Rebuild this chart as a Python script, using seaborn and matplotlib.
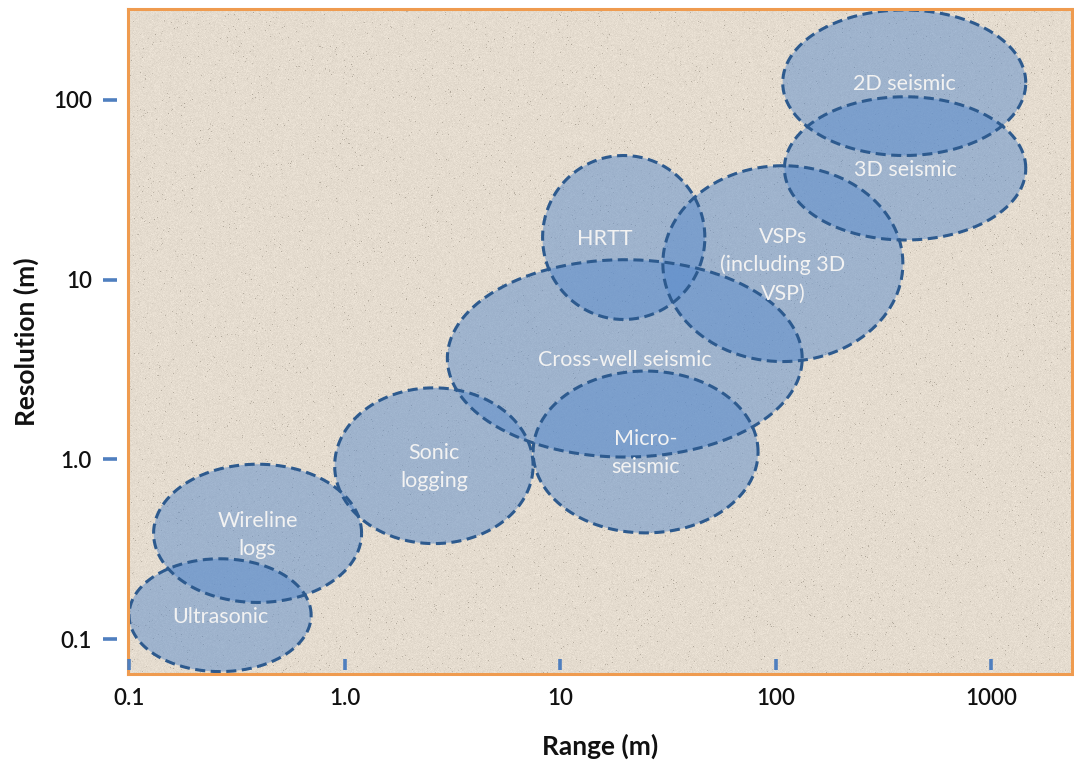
import numpy as np
import pandas as pd
import matplotlib
matplotlib.use("Agg")
import matplotlib.pyplot as plt
import matplotlib.transforms as mtransforms
import seaborn as sns

# Survey methods: range (m) and resolution (m) covered by each technique
methods = ["Ultrasonic", "Wireline\nlogs", "Sonic\nlogging", "Cross-well seismic",
           "Micro-\nseismic", "HRTT", "VSPs\n(including 3D\nVSP)", "2D seismic", "3D seismic"]
range_min = [0.10, 0.13, 0.90, 3.0, 7.5, 8.3, 30.0, 108.0, 110.0]
range_max = [0.70, 1.2, 7.5, 133.0, 83.0, 47.0, 390.0, 1450.0, 1450.0]
res_min = [0.066, 0.16, 0.34, 1.03, 0.39, 6.0, 3.5, 49.0, 16.6]
res_max = [0.28, 0.94, 2.5, 12.9, 3.1, 49.0, 43.0, 316.0, 104.0]

x_ticks = [0.1, 1, 10, 100, 1000]
x_tick_labels = ["0.1", "1.0", "10", "100", "1000"]
y_ticks = [0.1, 1, 10, 100]
y_tick_labels = ["0.1", "1.0", "10", "100"]

sns.set_theme(style="white")
plt.rcParams["font.family"] = ["Lato", "DejaVu Sans"]

fig = plt.figure(figsize=(10.74, 7.62), dpi=100)
ax = fig.add_axes([128 / 1074, 1 - 674 / 762, 944 / 1074, 665 / 762])
ax.set_xscale("log")
ax.set_yscale("log")
ax.set_xlim(0.0989, 2376)
ax.set_ylim(0.0640, 320)

# paper-like textured background
rng = np.random.default_rng(7)
h, w = 665, 944
base = np.array([229, 220, 207], dtype=float)
noise = rng.normal(0, 4.0, size=(h, w, 1))
tex = base + noise
specks = rng.random((h, w)) < 0.01
tex[specks] -= rng.uniform(20, 50, size=(specks.sum(), 1))
tex = np.clip(tex, 0, 255) / 255.0
ax.imshow(tex, extent=[0, 1, 0, 1], transform=ax.transAxes, aspect="auto",
          zorder=0, interpolation="bilinear")

fill_color = "#5a8ccc"
edge_color = "#2d5a8e"
t = np.linspace(0, 2 * np.pi, 361)
for name, x0, x1, y0, y1 in zip(methods, range_min, range_max, res_min, res_max):
    lx0, lx1, ly0, ly1 = np.log10([x0, x1, y0, y1])
    cx, cy = (lx0 + lx1) / 2, (ly0 + ly1) / 2
    rx, ry = (lx1 - lx0) / 2, (ly1 - ly0) / 2
    pts = pd.DataFrame({"x": 10 ** (cx + rx * np.cos(t)), "y": 10 ** (cy + ry * np.sin(t))})
    ax.fill(pts["x"], pts["y"], color=fill_color, alpha=0.5, lw=0, zorder=2)
    sns.lineplot(data=pts, x="x", y="y", sort=False, estimator=None, ax=ax,
                 color=edge_color, lw=2.2, linestyle=(0, (3.3, 1.8)), zorder=3)
    dx = -14 if name == "HRTT" else 0
    ax.annotate(name, (10 ** cx, 10 ** cy), xytext=(dx, -1), textcoords="offset points",
                ha="center", va="center", color="#f2f2f2", fontsize=15.5,
                linespacing=1.5, zorder=4)

# axes frame
for s in ax.spines.values():
    s.set_visible(True)
    s.set_color("#ef9b4f")
    s.set_linewidth(2.2)
    s.set_zorder(5)

# ticks: small detached blue dashes
tick_color = "#4f7fbf"
ax.set_xticks(x_ticks, x_tick_labels)
ax.set_yticks(y_ticks, y_tick_labels)
ax.minorticks_off()
ax.tick_params(axis="both", length=0)
ax.tick_params(axis="x", pad=10, labelsize=16, labelcolor="#111111")
ax.tick_params(axis="y", pad=26, labelsize=16, labelcolor="#111111")
for lab in ax.get_xticklabels() + ax.get_yticklabels():
    lab.set_fontweight("semibold")

bx = mtransforms.blended_transform_factory(ax.transData, ax.transAxes)
for xv in x_ticks:
    ax.plot([xv, xv], [0.006, 0.022], color=tick_color, lw=2.6, transform=bx,
            clip_on=False, zorder=6, solid_capstyle="butt")
by = mtransforms.blended_transform_factory(ax.transAxes, ax.transData)
for yv in y_ticks:
    ax.plot([-0.0265, -0.0117], [yv, yv], color=tick_color, lw=2.6, transform=by,
            clip_on=False, zorder=6, solid_capstyle="butt")

ax.grid(False)
ax.set_xlabel("Range (m)", fontsize=19, fontweight="bold", labelpad=18, color="#111111")
ax.set_ylabel("Resolution (m)", fontsize=19, fontweight="bold", labelpad=10, color="#111111")

fig.savefig("out.png", dpi=100, facecolor="white")
